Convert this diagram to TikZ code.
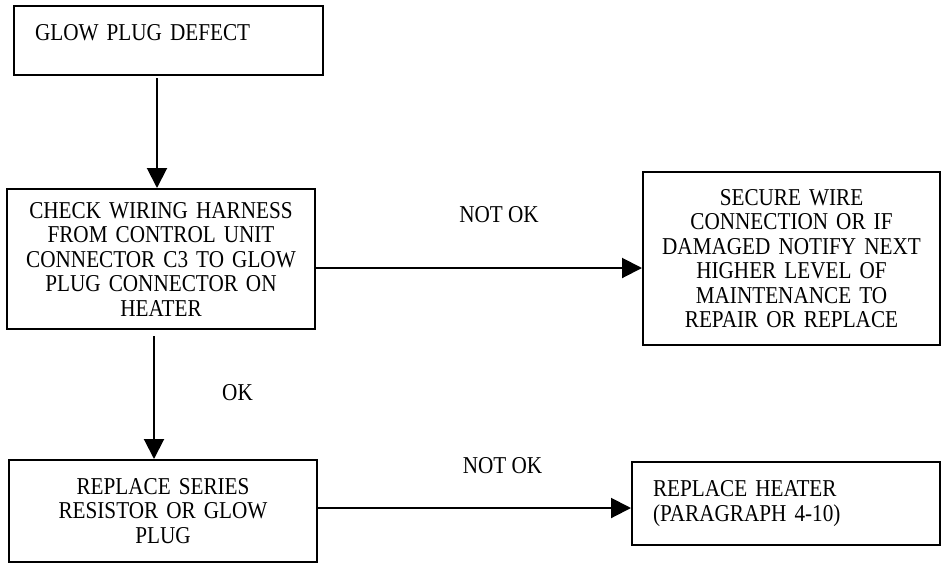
\documentclass[tikz,border=0pt]{standalone}
\usepackage{fontspec}
\setmainfont{Liberation Serif}[FakeStretch=0.876]
\usetikzlibrary{arrows.meta}
\begin{document}
\begin{tikzpicture}[x=1pt,y=-1pt,
  box/.style={draw, line width=2pt, align=center, inner sep=0pt, font=\fontsize{24.2}{24.5}\selectfont},
  lbl/.style={inner sep=0pt, font=\fontsize{24.2}{24.5}\selectfont},
  arr/.style={line width=2pt, -{Triangle[length=20pt,width=20pt]}}]
\useasboundingbox (0,0) rectangle (941,563);
\node[box, minimum width=309pt, minimum height=69pt, text width=267pt, align=left, text depth=16pt] (b1) at (168.5,40.5) {GLOW PLUG DEFECT};
\node[box, minimum width=308pt, minimum height=140pt, text width=300pt] (b2) at (161,259) {CHECK WIRING HARNESS\\FROM CONTROL UNIT\\CONNECTOR C3 TO GLOW\\PLUG CONNECTOR ON\\HEATER};
\node[box, minimum width=297pt, minimum height=173pt, text width=290pt] (b3) at (791.5,258.5) {SECURE WIRE\\CONNECTION OR IF\\DAMAGED NOTIFY NEXT\\HIGHER LEVEL OF\\MAINTENANCE TO\\REPAIR OR REPLACE};
\node[box, minimum width=308pt, minimum height=102pt, text width=300pt] (b4) at (163,511) {REPLACE SERIES\\RESISTOR OR GLOW\\PLUG};
\node[box, minimum width=308pt, minimum height=83pt, text width=266pt, align=left] (b5) at (786,503.5) {REPLACE HEATER\\(PARAGRAPH 4-10)};
\draw[arr, shorten <=2pt] (b1.south -| 157,0) -- (b2.north -| 157,0);
\draw[arr, shorten <=6pt] (b2.south -| 154,0) -- (b4.north -| 154,0);
\draw[arr] (b2.east |- 0,268) -- (b3.west |- 0,268);
\draw[arr] (b4.east |- 0,508) -- (b5.west |- 0,508);
\node[lbl] (l1) at (499,215) {NOT OK};
\node[lbl] (l2) at (237.5,393) {OK};
\node[lbl] (l3) at (502.5,466) {NOT OK};
\end{tikzpicture}
\end{document}
